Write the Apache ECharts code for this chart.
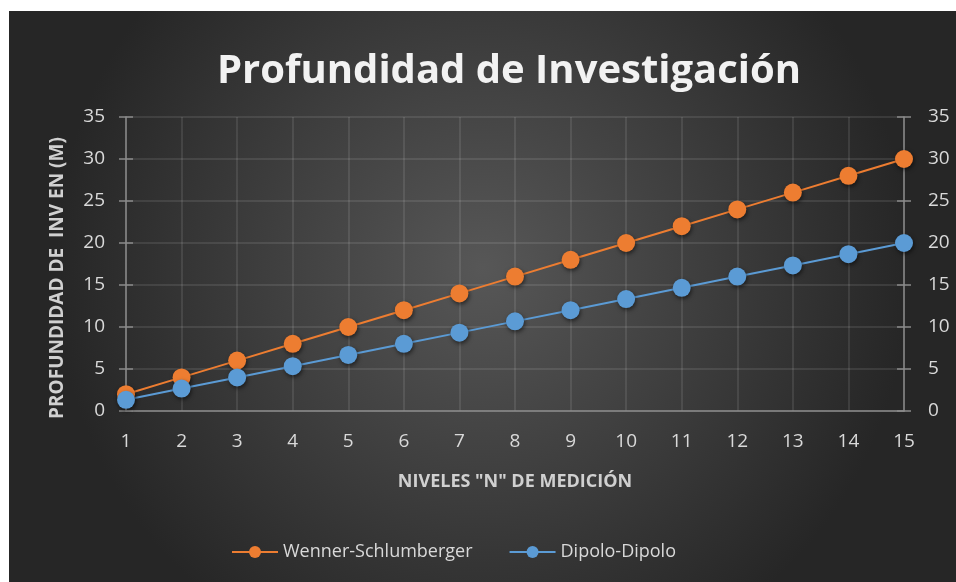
<!DOCTYPE html>
<html><head><meta charset="utf-8">
<script src="https://cdn.jsdelivr.net/npm/echarts@6/dist/echarts.min.js"></script>
<style>html,body{margin:0;padding:0;background:#fff;width:956px;height:582px;overflow:hidden}
#c{position:absolute;left:9px;top:11px;width:947px;height:571px}</style>
</head><body><div id="c"></div>
<script>
const categories = ['1','2','3','4','5','6','7','8','9','10','11','12','13','14','15'];
const wennerValues = [2,4,6,8,10,12,14,16,18,20,22,24,26,28,30];
const dipoloValues = [1.33,2.67,4,5.33,6.67,8,9.33,10.67,12,13.33,14.67,16,17.33,18.67,20];
const seriesNames = ['Wenner-Schlumberger','Dipolo-Dipolo'];
const titleText = 'Profundidad de Investigación';
const yTitle = 'PROFUNDIDAD DE  INV EN (M)';
const xTitle = 'NIVELES "N" DE MEDICIÓN';

const font = '"Open Sans", sans-serif';
const labelColor = '#d9d9d9';
const gridColor = 'rgba(255,255,255,0.13)';
const axisColor = '#8a8a8a';
const chart = echarts.init(document.getElementById('c'));
const yBase = {type:'value',min:0,max:35,interval:5};
const symStyle = (c)=>({color:c,shadowBlur:4,shadowColor:'rgba(0,0,0,0.55)',shadowOffsetX:1,shadowOffsetY:2});
chart.setOption({
  backgroundColor:{type:'radial',x:0.5,y:0.45,r:0.75,colorStops:[{offset:0,color:'#575757'},{offset:1,color:'#262626'}]},
  animation:false,
  graphic:[
    {type:'text',x:500,y:61,style:{text:titleText,fill:'#f2f2f2',font:'bold 40px '+font,textAlign:'center',textVerticalAlign:'middle',shadowBlur:4,shadowColor:'rgba(0,0,0,0.6)',shadowOffsetY:2}},
    {type:'text',x:49,y:267,rotation:Math.PI/2,style:{text:yTitle,fill:'#d0d0d0',font:'bold 19px '+font,textAlign:'center',textVerticalAlign:'middle'}}
  ],
  grid:{left:117,right:52,top:106,bottom:171},
  legend:{left:217,top:527,itemWidth:46,itemHeight:15,itemGap:36,
    textStyle:{color:labelColor,fontSize:18,fontFamily:font},data:seriesNames},
  xAxis:{type:'category',data:categories,boundaryGap:false,
    axisLine:{lineStyle:{color:axisColor,width:1.5}},axisTick:{show:false},
    axisLabel:{color:labelColor,fontSize:19,fontFamily:font,margin:21},
    splitLine:{show:true,lineStyle:{color:gridColor,width:1.5}},
    name:xTitle,nameLocation:'middle',nameGap:62,
    nameTextStyle:{color:'#d0d0d0',fontSize:18,fontWeight:'bold',fontFamily:font}},
  yAxis:[
    Object.assign({},yBase,{position:'left',axisLine:{show:true,lineStyle:{color:axisColor,width:1.5}},
      axisTick:{show:true,length:7,lineStyle:{color:axisColor,width:1.5}},
      axisLabel:{color:labelColor,fontSize:19,fontFamily:font,margin:21},
      splitLine:{show:true,lineStyle:{color:gridColor,width:1.5}}}),
    Object.assign({},yBase,{position:'right',axisLine:{show:true,lineStyle:{color:axisColor,width:1.5}},
      axisTick:{show:true,length:7,lineStyle:{color:axisColor,width:1.5}},
      axisLabel:{color:labelColor,fontSize:19,fontFamily:font,margin:24},splitLine:{show:false}}),
    Object.assign({},yBase,{position:'left',axisLine:{show:false},
      axisTick:{show:true,inside:true,length:7,lineStyle:{color:axisColor,width:1.5}},
      axisLabel:{show:false},splitLine:{show:false}}),
    Object.assign({},yBase,{position:'right',axisLine:{show:false},
      axisTick:{show:true,inside:true,length:7,lineStyle:{color:axisColor,width:1.5}},
      axisLabel:{show:false},splitLine:{show:false}})
  ],
  series:[
    {name:seriesNames[0],type:'line',data:wennerValues,yAxisIndex:0,symbol:'circle',symbolSize:18,
      lineStyle:{color:'#ED7D31',width:2},itemStyle:symStyle('#ED7D31'),color:'#ED7D31'},
    {name:seriesNames[1],type:'line',data:dipoloValues,yAxisIndex:0,symbol:'circle',symbolSize:18,
      lineStyle:{color:'#5B9BD5',width:2},itemStyle:symStyle('#5B9BD5'),color:'#5B9BD5'}
  ]
});
</script></body></html>
